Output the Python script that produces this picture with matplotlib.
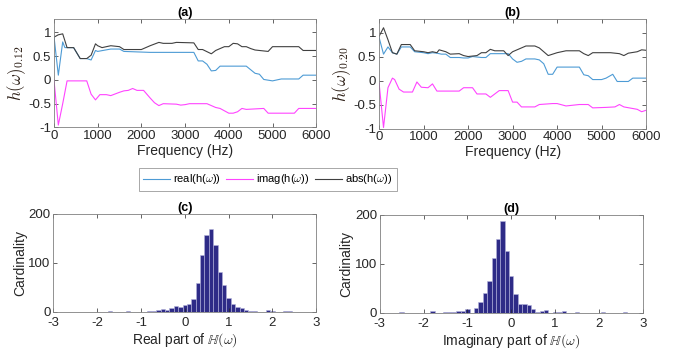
import numpy as np
import matplotlib
matplotlib.use('Agg')
import matplotlib.pyplot as plt

plt.rcParams['font.family'] = ['Liberation Sans', 'DejaVu Sans']
plt.rcParams['mathtext.fontset'] = 'cm'

# --- panel (a): h(w) at 0.12 ---
freq_a_abs = [0, 100, 200, 300, 450, 600, 750, 850, 950, 1000, 1100, 1200, 1300, 1500, 1600, 2000,
              2200, 2400, 2500, 2700, 2800, 3200, 3300, 3400, 3600, 3700, 3900, 4000, 4100, 4200,
              4300, 4400, 4500, 4600, 4900, 5000, 5600, 5700, 6000]
abs_a = [0.9, 0.95, 0.97, 0.68, 0.68, 0.45, 0.45, 0.52, 0.76, 0.72, 0.68, 0.70, 0.72, 0.70, 0.64, 0.64,
         0.72, 0.79, 0.77, 0.77, 0.79, 0.78, 0.64, 0.64, 0.55, 0.62, 0.70, 0.70, 0.77, 0.76,
         0.70, 0.70, 0.66, 0.63, 0.60, 0.70, 0.70, 0.62, 0.62]
freq_a_real = [0, 100, 200, 250, 450, 600, 750, 850, 950, 1000, 1300, 1500, 1600, 2200, 3200, 3300,
               3400, 3500, 3600, 3700, 3800, 4400, 4600, 4700, 4800, 5000, 5200, 5600, 5700, 6000]
real_a = [0.92, 0.1, 0.8, 0.68, 0.68, 0.45, 0.45, 0.42, 0.62, 0.60, 0.65, 0.65, 0.60, 0.58, 0.58, 0.40,
          0.40, 0.33, 0.19, 0.20, 0.29, 0.29, 0.14, 0.12, 0.01, -0.02, 0.02, 0.02, 0.10, 0.10]
freq_a_imag = [0, 100, 200, 300, 750, 850, 950, 1050, 1200, 1300, 1500, 1600, 1700, 1800, 1900, 2050,
               2200, 2300, 2400, 2500, 2800, 2900, 3000, 3100, 3500, 3700, 3800, 4000, 4100, 4200,
               4300, 4400, 4800, 4900, 5500, 5600, 6000]
imag_a = [0.0, -0.95, -0.5, -0.02, -0.02, -0.30, -0.42, -0.31, -0.31, -0.33, -0.26, -0.23, -0.22, -0.18,
          -0.22, -0.22, -0.38, -0.48, -0.54, -0.50, -0.51, -0.53, -0.52, -0.50, -0.50, -0.58, -0.60,
          -0.70, -0.70, -0.67, -0.60, -0.62, -0.60, -0.70, -0.70, -0.60, -0.60]

# --- panel (b): h(w) at 0.20 ---
freq_b_abs = [0, 100, 200, 300, 400, 500, 700, 800, 1000, 1100, 1200, 1300, 1350, 1500, 1600, 1800,
              1900, 2000, 2200, 2300, 2400, 2500, 2600, 2800, 2900, 3000, 3200, 3300, 3500, 3600,
              3800, 4000, 4200, 4500, 4600, 4700, 4800, 5200, 5400, 5500, 5600, 5800, 5900, 6000]
abs_b = [0.92, 1.1, 0.85, 0.58, 0.55, 0.75, 0.75, 0.62, 0.60, 0.58, 0.60, 0.58, 0.64, 0.60, 0.55, 0.56,
         0.52, 0.50, 0.52, 0.58, 0.58, 0.65, 0.62, 0.62, 0.52, 0.60, 0.68, 0.72, 0.72, 0.68,
         0.52, 0.58, 0.62, 0.62, 0.56, 0.52, 0.58, 0.58, 0.56, 0.52, 0.57, 0.60, 0.64, 0.63]
freq_b_real = [0, 100, 200, 300, 400, 500, 700, 800, 1000, 1100, 1200, 1300, 1400, 1500, 1600, 1800,
               1900, 2000, 2100, 2300, 2400, 2500, 2900, 3000, 3100, 3200, 3300, 3500, 3600, 3700,
               3800, 3900, 4000, 4500, 4600, 4700, 4800, 5000, 5100, 5250, 5350, 5600, 5700, 6000]
real_b = [0.9, 0.55, 0.70, 0.58, 0.55, 0.70, 0.70, 0.60, 0.58, 0.56, 0.58, 0.57, 0.55, 0.55, 0.48, 0.48,
          0.47, 0.47, 0.50, 0.48, 0.48, 0.56, 0.56, 0.45, 0.38, 0.40, 0.45, 0.45, 0.43, 0.35,
          0.13, 0.13, 0.28, 0.28, 0.12, 0.10, 0.02, 0.02, 0.05, 0.13, -0.02, -0.02, 0.05, 0.05]
freq_b_imag = [0, 100, 200, 300, 350, 450, 550, 750, 850, 950, 1100, 1200, 1300, 1800, 1900, 2100,
               2200, 2400, 2500, 2700, 2900, 3000, 3100, 3200, 3500, 3600, 3900, 4000, 4200, 4500,
               4700, 4800, 5100, 5300, 5400, 5500, 5800, 5900, 6000]
imag_b = [-0.05, -0.98, -0.15, 0.05, 0.02, -0.18, -0.24, -0.24, -0.03, -0.14, -0.15, -0.07, -0.22, -0.22,
          -0.15, -0.15, -0.28, -0.28, -0.35, -0.21, -0.21, -0.45, -0.45, -0.55, -0.55, -0.50, -0.48,
          -0.48, -0.53, -0.50, -0.50, -0.57, -0.56, -0.55, -0.50, -0.55, -0.60, -0.65, -0.62]

# --- histograms (bin centres, width 0.1) ---
real_bins = [-1.7, -1.3, -0.8, -0.7, -0.6, -0.5, -0.4, -0.3, -0.2, -0.1, 0.0, 0.1, 0.2, 0.3, 0.4, 0.5,
             0.6, 0.7, 0.8, 0.9, 1.0, 1.1, 1.2, 1.3, 1.4, 1.5, 1.6, 1.9, 2.0, 2.3, 2.4]
real_counts = [1, 2, 1, 1, 4, 5, 3, 7, 12, 10, 15, 16, 26, 59, 115, 156,
               169, 136, 82, 54, 28, 16, 10, 7, 4, 2, 2, 3, 2, 1, 1]
imag_bins = [-2.5, -1.8, -1.5, -1.4, -1.3, -1.2, -1.1, -1.0, -0.8, -0.7, -0.6, -0.5, -0.4, -0.3, -0.2,
             -0.1, 0.0, 0.1, 0.2, 0.3, 0.4, 0.5, 0.6, 0.7, 0.8, 1.0, 1.1, 1.2, 1.5, 2.1, 2.6]
imag_counts = [2, 3, 2, 2, 2, 4, 4, 9, 10, 23, 40, 65, 113, 151, 188,
               127, 76, 38, 19, 18, 16, 9, 2, 3, 6, 2, 2, 3, 1, 1, 2]

c_real = '#4d9bd5'
c_imag = '#ff44ff'
c_abs = '#404040'
c_axis = '#262626'
fs = 9.5
fl = 10

fig = plt.figure(figsize=(6.83, 3.54), dpi=100)


def style(ax):
    for s in ax.spines.values():
        s.set_color('#808080')
        s.set_linewidth(0.6)
    ax.tick_params(direction='in', length=3, width=0.5, top=True, right=True,
                   labelsize=fs, colors=c_axis, pad=2)


ax_a = fig.add_axes([0.079, 0.640, 0.384, 0.306])
ax_b = fig.add_axes([0.555, 0.637, 0.391, 0.309])
ax_c = fig.add_axes([0.078, 0.119, 0.385, 0.277])
ax_d = fig.add_axes([0.556, 0.116, 0.385, 0.277])

lines = None
for ax, title, lab, fr, re, fi, im, fa, ab in [
        (ax_a, '(a)', r'$h(\omega)_{0.12}$', freq_a_real, real_a, freq_a_imag, imag_a, freq_a_abs, abs_a),
        (ax_b, '(b)', r'$h(\omega)_{0.20}$', freq_b_real, real_b, freq_b_imag, imag_b, freq_b_abs, abs_b)]:
    l1, = ax.plot(fr, re, color=c_real, lw=0.8)
    l2, = ax.plot(fi, im, color=c_imag, lw=0.8)
    l3, = ax.plot(fa, ab, color=c_abs, lw=0.8)
    lines = [l1, l2, l3]
    ax.set_xlim(0, 6000)
    ax.set_ylim(-1, 1.28)
    ax.set_xticks(range(0, 6001, 1000))
    ax.set_yticks([-1, -0.5, 0, 0.5, 1])
    ax.set_yticklabels(['-1', '-0.5', '0', '0.5', '1'])
    ax.set_title(title, fontsize=fs - 0.5, fontweight='bold', pad=2)
    ax.set_xlabel('Frequency (Hz)', fontsize=fl, color=c_axis, labelpad=1)
    ax.set_ylabel(lab, fontsize=12, color='#2b1d14', labelpad=0)
    style(ax)

for ax, title, xl, bins, counts in [
        (ax_c, '(c)', r'Real part of $\mathbb{H}(\omega)$', real_bins, real_counts),
        (ax_d, '(d)', r'Imaginary part of $\mathbb{H}(\omega)$', imag_bins, imag_counts)]:
    ax.bar(bins, counts, width=0.1, color='#2e2b87', edgecolor='#b4b4dc', linewidth=0.4)
    ax.set_xlim(-3, 3)
    ax.set_ylim(0, 200)
    ax.set_xticks(range(-3, 4))
    ax.set_xticklabels(['-3', '-2', '-1', '0', '1', '2', '3'])
    ax.set_yticks([0, 100, 200])
    ax.set_title(title, fontsize=fs - 0.5, fontweight='bold', pad=2)
    ax.set_xlabel(xl, fontsize=fl, color=c_axis, labelpad=1)
    ax.set_ylabel('Cardinality', fontsize=fl, color=c_axis, labelpad=1)
    style(ax)
    ax.tick_params(axis='x', pad=4)

leg = fig.legend(lines, [r'real(h($\omega$))', r'imag(h($\omega$))', r'abs(h($\omega$))'],
                 loc='center', bbox_to_anchor=(0.392, 0.493), ncol=3, fontsize=8,
                 frameon=True, fancybox=False, handlelength=2.4, columnspacing=0.5,
                 handletextpad=0.3, borderpad=0.4, borderaxespad=0)
leg.get_frame().set_edgecolor('#808080')
leg.get_frame().set_linewidth(0.6)

fig.savefig('out.png', dpi=100)
